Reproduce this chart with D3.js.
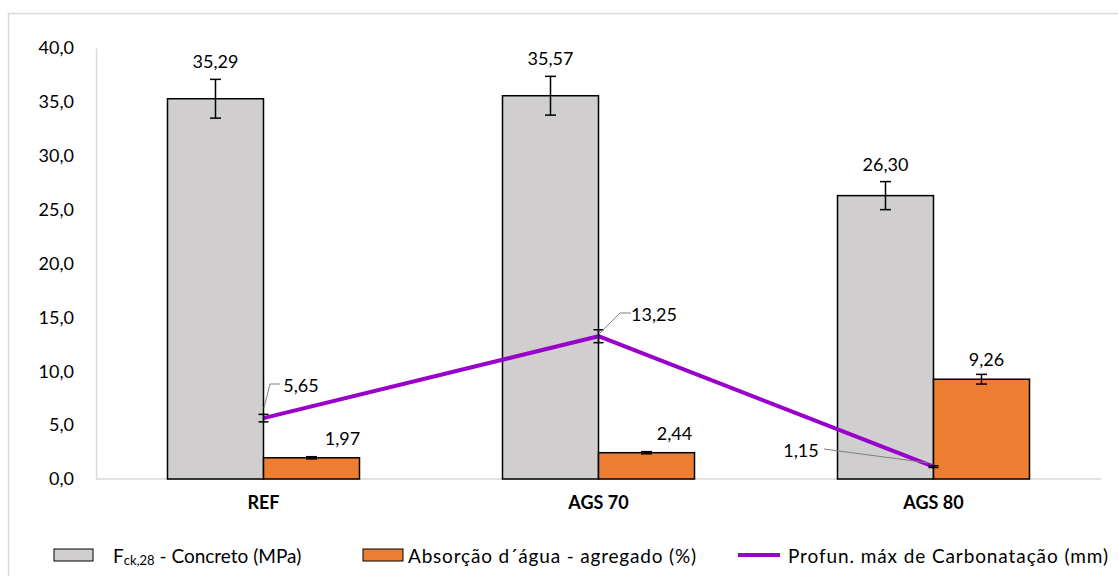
<!DOCTYPE html>
<html><head><meta charset="utf-8">
<script src="https://cdn.jsdelivr.net/npm/d3@7"></script>
<style>body{margin:0;background:#fff}svg{display:block;font-family:Lato,"Open Sans",sans-serif}</style>
</head><body><svg id="c" width="1118" height="576"></svg>
<script>
const categories = ["REF", "AGS 70", "AGS 80"];
const fck = [35.29, 35.57, 26.30];
const fckErr = [1.8, 1.8, 1.3];
const absorcao = [1.97, 2.44, 9.26];
const absorcaoErr = [0.1, 0.1, 0.45];
const carbonatacao = [5.65, 13.25, 1.15];
const carbonatacaoErr = [0.35, 0.6, 0.08];
const yTicks = [0, 5, 10, 15, 20, 25, 30, 35, 40];
const seriesNames = ["Concreto (MPa)", "Absorção d´água - agregado (%)", "Profun. máx de Carbonatação (mm)"];

const fmt2 = v => v.toFixed(2).replace(".", ",");
const fmt1 = v => v.toFixed(1).replace(".", ",");

const svg = d3.select("#c");
const L = 96, R = 1101, T = 48, B = 479;
const x = d3.scaleBand().domain(categories).range([L, R]);
const y = d3.scaleLinear().domain([0, 40]).range([B, T]);
const bw = 96;
const FS = 18;

// frame
svg.append("rect").attr("x", 8.5).attr("y", 13.5).attr("width", 1130).attr("height", 600)
  .attr("fill", "none").attr("stroke", "#D9D9D9").attr("stroke-width", 1.5);

// y axis
const yAxis = d3.axisLeft(y).tickValues(yTicks).tickFormat(fmt1).tickSize(0).tickPadding(22);
const gy = svg.append("g").attr("transform", `translate(${L},0)`).call(yAxis);
gy.select(".domain").attr("stroke", "#D9D9D9").attr("stroke-width", 1.5);
gy.selectAll("text").attr("font-size", FS).attr("fill", "#000").attr("font-family", "Lato");

// baseline
svg.append("line").attr("x1", L).attr("x2", R).attr("y1", y(0)).attr("y2", y(0))
  .attr("stroke", "#D9D9D9").attr("stroke-width", 1.5);

// x axis labels
const xAxis = d3.axisBottom(x).tickSize(0).tickPadding(17);
const gx = svg.append("g").attr("transform", `translate(0,${B})`).call(xAxis);
gx.select(".domain").remove();
gx.selectAll("text").attr("font-size", FS).attr("font-weight", "bold").attr("fill", "#000").attr("font-family", "Lato");

const cx = c => x(c) + x.bandwidth() / 2;

function errBar(xc, v, e, cap) {
  const g = svg.append("g").attr("stroke", "#000").attr("stroke-width", 1.5);
  g.append("line").attr("x1", xc).attr("x2", xc).attr("y1", y(v - e)).attr("y2", y(v + e));
  g.append("line").attr("x1", xc - cap).attr("x2", xc + cap).attr("y1", y(v + e)).attr("y2", y(v + e));
  g.append("line").attr("x1", xc - cap).attr("x2", xc + cap).attr("y1", y(v - e)).attr("y2", y(v - e));
}

// bars
svg.append("g").selectAll("rect").data(categories).join("rect")
  .attr("x", c => cx(c) - bw).attr("width", bw)
  .attr("y", (c, i) => y(fck[i])).attr("height", (c, i) => y(0) - y(fck[i]))
  .attr("fill", "#D0CECE").attr("stroke", "#000").attr("stroke-width", 1.5);
svg.append("g").selectAll("rect").data(categories).join("rect")
  .attr("x", c => cx(c)).attr("width", bw)
  .attr("y", (c, i) => y(absorcao[i])).attr("height", (c, i) => y(0) - y(absorcao[i]))
  .attr("fill", "#ED7D31").attr("stroke", "#000").attr("stroke-width", 1.5);

categories.forEach((c, i) => {
  errBar(cx(c) - bw / 2, fck[i], fckErr[i], 5.5);
  errBar(cx(c) + bw / 2, absorcao[i], absorcaoErr[i], 5.5);
});

const txt = (xp, yp, s, anchor) => svg.append("text").attr("x", xp).attr("y", yp)
  .attr("text-anchor", anchor || "middle").attr("dominant-baseline", "central")
  .attr("font-size", FS).attr("fill", "#000").text(s);

categories.forEach((c, i) => {
  txt(cx(c) - bw / 2, y(fck[i] + fckErr[i]) - 18, fmt2(fck[i]));
});
const absDx = [31, 28, 5];
categories.forEach((c, i) => {
  txt(cx(c) + bw / 2 + absDx[i], y(absorcao[i]) - 20, fmt2(absorcao[i]));
});

// line
const line = d3.line().x((d, i) => cx(categories[i])).y(d => y(d));
svg.append("path").datum(carbonatacao).attr("d", line)
  .attr("fill", "none").attr("stroke", "#9900CC").attr("stroke-width", 4).attr("stroke-linejoin", "round");
categories.forEach((c, i) => errBar(cx(c), carbonatacao[i], carbonatacaoErr[i], 5));

// line labels with leader lines
const lbl = [
  {tx: 301, ty: 385, path: [[280, 384], [270, 384], [264, 408]]},
  {tx: 654, ty: 314, path: [[631, 313], [620, 313], [600, 333]]},
  {tx: 801, ty: 450, path: [[824, 449], [929, 463]]}
];
categories.forEach((c, i) => {
  const o = lbl[i];
  svg.append("path").attr("d", d3.line()(o.path)).attr("fill", "none")
    .attr("stroke", "#7F7F7F").attr("stroke-width", 1);
  txt(o.tx, o.ty, fmt2(carbonatacao[i]));
});

// legend
const ly = 555;
const LFS = 19;
const lg = svg.append("g");
lg.append("rect").attr("x", 54).attr("y", ly - 6).attr("width", 39).attr("height", 12)
  .attr("fill", "#D0CECE").attr("stroke", "#000").attr("stroke-width", 1);
const t1 = lg.append("text").attr("x", 113).attr("y", ly).attr("dominant-baseline", "central")
  .attr("font-size", LFS).attr("fill", "#000");
t1.append("tspan").text("F");
t1.append("tspan").attr("font-size", 13).attr("dy", 5).text("ck,28");
t1.append("tspan").attr("dy", -5).text(" - " + seriesNames[0]);
lg.append("rect").attr("x", 363).attr("y", ly - 6).attr("width", 40).attr("height", 12)
  .attr("fill", "#ED7D31").attr("stroke", "#000").attr("stroke-width", 1);
lg.append("text").attr("x", 408).attr("y", ly).attr("dominant-baseline", "central")
  .attr("font-size", LFS).attr("fill", "#000").attr("textLength", 288).attr("lengthAdjust", "spacing")
  .text(seriesNames[1]);
lg.append("line").attr("x1", 738).attr("x2", 780).attr("y1", ly).attr("y2", ly)
  .attr("stroke", "#9900CC").attr("stroke-width", 4);
lg.append("text").attr("x", 788).attr("y", ly).attr("dominant-baseline", "central")
  .attr("font-size", LFS).attr("fill", "#000").attr("textLength", 320).attr("lengthAdjust", "spacing")
  .text(seriesNames[2]);
</script></body></html>
